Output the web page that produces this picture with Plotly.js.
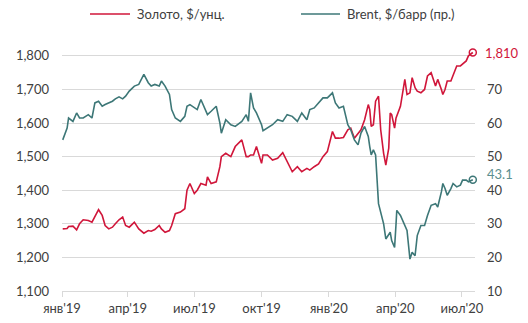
<!DOCTYPE html>
<html>
<head>
<meta charset="utf-8">
<script src="https://cdn.plot.ly/plotly-3.0.1.min.js"></script>
<style>html,body{margin:0;padding:0;background:#fff;}#chart{width:528px;height:323px;}</style>
</head>
<body>
<div id="chart"></div>
<script>
const dates = [
"2019-01-02","2019-01-08","2019-01-10","2019-01-16","2019-01-21","2019-01-25","2019-01-30",
"2019-02-06","2019-02-11","2019-02-15","2019-02-20","2019-02-25",
"2019-03-01","2019-03-06","2019-03-11","2019-03-15","2019-03-20","2019-03-25","2019-03-29",
"2019-04-03","2019-04-10","2019-04-16","2019-04-23","2019-04-29",
"2019-05-03","2019-05-08","2019-05-14","2019-05-17","2019-05-22","2019-05-28","2019-05-31",
"2019-06-05","2019-06-12","2019-06-18","2019-06-21","2019-06-25",
"2019-07-01","2019-07-05","2019-07-10","2019-07-17","2019-07-19","2019-07-24","2019-07-31",
"2019-08-05","2019-08-07","2019-08-13","2019-08-20","2019-08-26",
"2019-09-04","2019-09-10","2019-09-13","2019-09-16","2019-09-20","2019-09-24",
"2019-10-01","2019-10-03","2019-10-09","2019-10-16","2019-10-23","2019-10-30",
"2019-11-05","2019-11-12","2019-11-19","2019-11-25",
"2019-12-02","2019-12-06","2019-12-12","2019-12-18","2019-12-24","2019-12-30",
"2020-01-06","2020-01-10","2020-01-15","2020-01-21","2020-01-27","2020-01-31",
"2020-02-05","2020-02-10","2020-02-14","2020-02-19","2020-02-24","2020-02-26","2020-02-28",
"2020-03-02","2020-03-05","2020-03-09","2020-03-12","2020-03-16","2020-03-19","2020-03-23","2020-03-25","2020-03-27","2020-03-31",
"2020-04-02","2020-04-03","2020-04-08","2020-04-14","2020-04-17","2020-04-21","2020-04-24","2020-04-28",
"2020-05-01","2020-05-06","2020-05-11","2020-05-15","2020-05-20","2020-05-26","2020-05-29",
"2020-06-03","2020-06-05","2020-06-08","2020-06-11","2020-06-16","2020-06-19","2020-06-24","2020-06-29",
"2020-07-02","2020-07-07","2020-07-10","2020-07-16"
];
const gold = [
1285,1286,1292,1293,1282,1300,1312,
1310,1305,1320,1342,1325,
1295,1285,1290,1300,1312,1320,1295,
1290,1305,1285,1272,1280,
1278,1283,1295,1285,1275,1280,1295,
1330,1335,1345,1400,1420,
1390,1400,1420,1415,1440,1420,1425,
1470,1500,1510,1500,1530,
1550,1500,1500,1505,1505,1530,
1480,1505,1505,1490,1495,1512,
1485,1455,1470,1455,
1465,1460,1470,1478,1500,1515,
1575,1555,1555,1557,1580,1585,
1555,1570,1580,1610,1655,1640,1590,
1595,1665,1680,1580,1510,1475,1525,1630,1625,1585,
1615,1620,1650,1730,1685,1690,1735,1705,
1695,1690,1700,1740,1750,1710,1730,
1700,1685,1700,1725,1725,1740,1770,1770,
1775,1785,1800,1810
];
const brent = [
55.0,58.5,61.5,60.5,63.0,61.5,61.5,
62.5,61.5,66.0,66.5,65.0,
65.5,66.0,66.5,67.2,67.8,67.2,68.0,
69.5,71.0,71.5,74.5,72.0,
71.0,71.5,71.0,72.5,71.0,68.5,64.0,
61.5,60.5,62.0,65.0,65.5,
64.5,64.0,67.0,63.5,62.5,63.5,65.0,
60.0,57.0,61.0,59.5,59.0,
60.5,62.5,60.5,69.0,64.5,63.0,
59.5,57.7,58.5,59.5,61.0,60.5,
62.5,62.0,60.5,63.0,
61.0,64.0,64.5,66.0,67.5,67.5,
69.0,66.0,64.5,65.0,59.5,58.0,
55.0,53.5,57.0,59.0,56.0,53.0,50.5,
52.0,50.5,36.0,33.0,30.0,25.5,27.0,27.5,25.0,23.0,
30.0,34.0,32.5,29.5,28.0,19.5,21.5,20.5,
26.5,29.5,29.5,32.5,35.5,36.0,35.0,
39.5,42.0,40.5,38.5,40.5,42.0,41.0,41.5,
43.0,43.0,42.5,43.1
];
const tickDates = ["2019-01-01","2019-04-01","2019-07-01","2019-10-01","2020-01-01","2020-04-01","2020-07-01"];
const tickLabels = ["янв'19","апр'19","июл'19","окт'19","янв'20","апр'20","июл'20"];
const goldTicks = [1100,1200,1300,1400,1500,1600,1700,1800];
const brentTicks = [10,20,30,40,50,60,70];
const goldName = "Золото, $/унц.";
const brentName = "Brent, $/барр (пр.)";

const RED = "#d0163a", TEAL = "#3d7777";
const FONT = "Lato, 'Noto Sans', sans-serif";
const TXT = "#404040";
const n = dates.length - 1;

// plot area in pixels: left 62, right 475, top 29, bottom 291
const PL = 62, PW = 413, PT = 29, PH = 262;
const px = v => (v - PL) / PW;
const py = v => (PH + PT - v) / PH;

const traces = [
  {x: dates, y: gold, name: goldName, type: "scatter", mode: "lines",
   line: {color: RED, width: 1.6}, yaxis: "y"},
  {x: dates, y: brent, name: brentName, type: "scatter", mode: "lines",
   line: {color: TEAL, width: 1.6}, yaxis: "y2"},
  {x: [dates[n]], y: [gold[n]], type: "scatter", mode: "markers", cliponaxis: false,
   marker: {symbol: "circle-open", size: 7, color: RED, line: {width: 1.5}}, yaxis: "y"},
  {x: [dates[n]], y: [brent[n]], type: "scatter", mode: "markers", cliponaxis: false,
   marker: {symbol: "circle-open", size: 7, color: TEAL, line: {width: 1.5}}, yaxis: "y2"}
];

const legendY = py(14);
const layout = {
  width: 528, height: 323,
  margin: {l: PL, r: 528 - PL - PW, t: PT, b: 323 - PT - PH, autoexpand: false},
  paper_bgcolor: "#fff", plot_bgcolor: "#fff",
  font: {family: FONT, size: 13, color: TXT},
  showlegend: false,
  xaxis: {type: "date", range: ["2019-01-01", "2020-07-19"],
          tickvals: tickDates, ticktext: tickLabels,
          showgrid: false, zeroline: false, showline: true, linecolor: "#d9d9d9", linewidth: 1,
          ticks: "outside", ticklen: 5, tickcolor: "#d9d9d9",
          tickfont: {family: FONT, size: 13, color: TXT}},
  yaxis: {range: [1100, 1880], tickvals: goldTicks,
          tickformat: ",d", showgrid: true, gridcolor: "#d9d9d9", gridwidth: 1,
          zeroline: false, ticks: "", ticklabelstandoff: 12,
          tickfont: {family: FONT, size: 13, color: TXT}},
  yaxis2: {range: [10, 88], tickvals: brentTicks, overlaying: "y", side: "right",
           showgrid: false, zeroline: false, ticks: "", ticklabelstandoff: 11,
           tickfont: {family: FONT, size: 13, color: TXT}},
  shapes: [
    {type: "line", xref: "paper", yref: "paper", x0: px(90), x1: px(130), y0: legendY, y1: legendY,
     line: {color: RED, width: 1.6}},
    {type: "line", xref: "paper", yref: "paper", x0: px(301), x1: px(340), y0: legendY, y1: legendY,
     line: {color: TEAL, width: 1.6}}
  ],
  annotations: [
    {xref: "paper", yref: "paper", x: px(135), y: legendY, text: goldName, showarrow: false,
     xanchor: "left", yanchor: "middle", font: {family: FONT, size: 13, color: TXT}},
    {xref: "paper", yref: "paper", x: px(345), y: legendY, text: brentName, showarrow: false,
     xanchor: "left", yanchor: "middle", font: {family: FONT, size: 13, color: TXT}},
    {x: dates[n], y: gold[n], xref: "x", yref: "y", text: "1,810", showarrow: false,
     xanchor: "left", yanchor: "middle", xshift: 10, font: {family: FONT, size: 13, color: RED}},
    {x: dates[n], y: brent[n], xref: "x", yref: "y2", text: String(brent[n]), showarrow: false,
     xanchor: "left", yanchor: "middle", xshift: 12, yshift: 6, font: {family: FONT, size: 13, color: "#5b8f8f"}}
  ]
};
Plotly.newPlot("chart", traces, layout, {displayModeBar: false, staticPlot: true});
</script>
</body>
</html>
